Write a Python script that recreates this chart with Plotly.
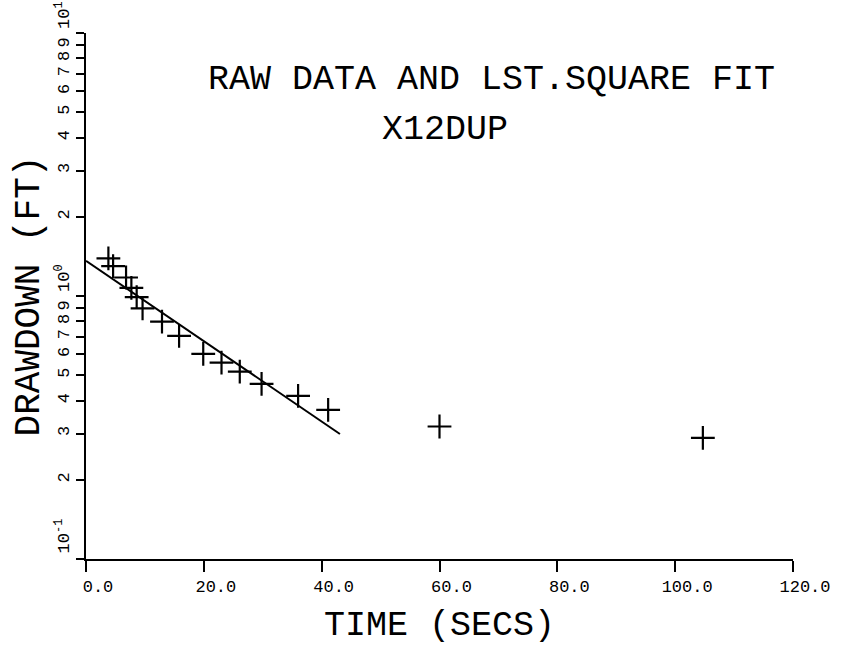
import numpy as np
import plotly.graph_objects as go

# Raw drawdown readings (time in seconds, drawdown in feet)
time_secs = [3.8, 4.6, 6.8, 7.7, 8.6, 9.6, 12.9, 15.8, 19.9, 23.0, 26.1, 29.8, 36.0, 41.1, 60.0, 104.7]
drawdown_ft = [1.389, 1.300, 1.176, 1.073, 0.991, 0.898, 0.799, 0.705, 0.602, 0.558, 0.516, 0.463, 0.417, 0.369, 0.319, 0.289]

# Least-squares fit line endpoints
fit_time = [0.0, 43.1]
fit_drawdown = [1.362, 0.2987]

# Axis tick values and labels
x_tickvals = [0, 20, 40, 60, 80, 100, 120]
x_ticktext = ["0.0", "20.0", "40.0", "60.0", "80.0", "100.0", "120.0"]

decades = [0.1, 1.0, 10.0]
decade_text = ["10<sup>-1</sup>", "10<sup>0</sup>", "10<sup>1</sup>"]
minor_digits = [2, 3, 4, 5, 6, 7, 8, 9]

# Decade labels start at their tick and run upward, so pad them on the leading side
decade_pad = [4, 3, 3]
y_tickvals = []
y_ticktext = []
for i, d in enumerate(decades):
    y_tickvals.append(d)
    y_ticktext.append("\u00a0" * decade_pad[i] + decade_text[i])
    if d < 10:
        for m in minor_digits:
            y_tickvals.append(d * m)
            y_ticktext.append(str(m))

FONT = "Liberation Mono"

fig = go.Figure()
fig.add_trace(go.Scatter(
    x=fit_time, y=fit_drawdown, mode="lines",
    line=dict(color="black", width=2), showlegend=False,
))
fig.add_trace(go.Scatter(
    x=time_secs, y=drawdown_ft, mode="markers",
    marker=dict(symbol="cross-thin", size=17, line=dict(color="black", width=2.2), color="black"),
    showlegend=False,
))

fig.update_layout(
    width=843, height=652,
    margin=dict(l=86, r=50, t=33, b=93, autoexpand=False),
    paper_bgcolor="white", plot_bgcolor="white",
    font=dict(family=FONT, color="black"),
    xaxis=dict(
        range=[0, 120], tickvals=x_tickvals, ticktext=x_ticktext, automargin=False,
        showgrid=False, zeroline=False, showline=True, linecolor="black", linewidth=2,
        ticks="outside", ticklen=11, tickwidth=2, tickcolor="black",
        tickfont=dict(family=FONT, size=17), ticklabelshift=12,
        title=dict(text="TIME (SECS)", font=dict(family=FONT, size=35), standoff=14),
    ),
    yaxis=dict(
        type="log", range=[-1, 1], tickvals=y_tickvals, ticktext=y_ticktext, automargin=False,
        showgrid=False, zeroline=False, showline=True, linecolor="black", linewidth=1.5,
        ticks="outside", ticklen=8, tickwidth=1.5, tickcolor="black",
        tickangle=-90, tickfont=dict(family=FONT, size=17), ticklabeloverflow="allow",
        title=dict(text="DRAWDOWN (FT)", font=dict(family=FONT, size=36), standoff=2),
    ),
    annotations=[
        dict(text="RAW DATA AND LST.SQUARE FIT", xref="paper", yref="paper",
             x=0.573, y=0.911, xanchor="center", yanchor="middle",
             showarrow=False, font=dict(family=FONT, size=35)),
        dict(text="X12DUP", xref="paper", yref="paper",
             x=0.508, y=0.816, xanchor="center", yanchor="middle",
             showarrow=False, font=dict(family=FONT, size=35)),
    ],
)

fig.write_html("out.html")
